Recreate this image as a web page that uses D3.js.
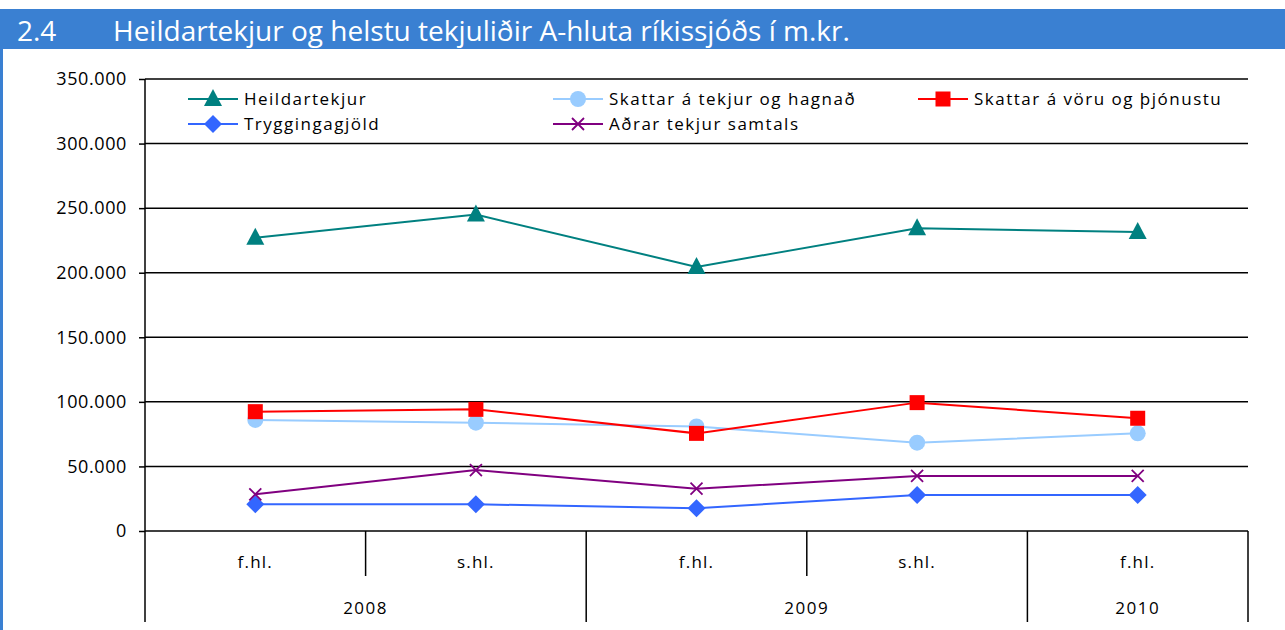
<!DOCTYPE html>
<html>
<head>
<meta charset="utf-8">
<script src="https://cdn.jsdelivr.net/npm/d3@7"></script>
<style>
  body { margin: 0; background: #fff; }
  svg text { font-family: "Open Sans", "Noto Sans", sans-serif; fill: #000; }
</style>
</head>
<body>
<script>
// data
var periods = ["f.hl.", "s.hl.", "f.hl.", "s.hl.", "f.hl."];
var years = [["2008", 0, 2], ["2009", 2, 4], ["2010", 4, 5]];
var yTicks = [0, 50000, 100000, 150000, 200000, 250000, 300000, 350000];

var heildartekjur = [227000, 245000, 204500, 234500, 231500];
var skattarTekjur = [86000, 83900, 81000, 68400, 75600];
var skattarVoru = [92400, 94200, 75600, 99400, 87300];
var tryggingagjold = [20700, 20700, 17600, 27900, 27900];
var adrarTekjur = [28400, 47200, 32800, 42600, 42600];

var series = [
  { name: "Heildartekjur", values: heildartekjur, color: "#008080", marker: "triangle" },
  { name: "Skattar á tekjur og hagnað", values: skattarTekjur, color: "#99ccff", marker: "circle" },
  { name: "Skattar á vöru og þjónustu", values: skattarVoru, color: "#ff0000", marker: "square" },
  { name: "Tryggingagjöld", values: tryggingagjold, color: "#3366ff", marker: "diamond" },
  { name: "Aðrar tekjur samtals", values: adrarTekjur, color: "#800080", marker: "cross" }
];

var W = 1285, H = 630;
var plotLeft = 145, plotRight = 1248, plotTop = 79, plotBottom = 531;

var svg = d3.select("body").append("svg")
  .attr("width", W).attr("height", H);

// title bar
svg.append("rect").attr("x", 0).attr("y", 9).attr("width", W).attr("height", 40).attr("fill", "#3a80d2");
svg.append("rect").attr("x", 0).attr("y", 49).attr("width", 3).attr("height", H - 49).attr("fill", "#3a80d2");
svg.append("text").attr("x", 17).attr("y", 41).style("font-size", "28px").style("fill", "#fff").text("2.4");
svg.append("text").attr("x", 113).attr("y", 41).style("font-size", "28px").style("fill", "#fff")
  .text("Heildartekjur og helstu tekjuliðir A-hluta ríkissjóðs í m.kr.");

var x = d3.scaleBand().domain(d3.range(periods.length)).range([plotLeft, plotRight]).padding(0);
var y = d3.scaleLinear().domain([0, 350000]).range([plotBottom, plotTop]);

var loc = d3.formatLocale({ decimal: ",", thousands: ".", grouping: [3], currency: ["", ""] });
var fmt = loc.format(",");

// gridlines
svg.append("g").selectAll("line").data(yTicks.slice(1)).enter().append("line")
  .attr("x1", plotLeft).attr("x2", plotRight)
  .attr("y1", function(d) { return y(d); }).attr("y2", function(d) { return y(d); })
  .attr("stroke", "#000").attr("stroke-width", 1.5);

// y axis
var yAxis = svg.append("g")
  .attr("transform", "translate(" + plotLeft + ",0)")
  .call(d3.axisLeft(y).tickValues(yTicks).tickFormat(fmt).tickSize(6).tickPadding(12));
yAxis.select(".domain").remove();
yAxis.selectAll("line").attr("stroke", "#000").attr("stroke-width", 1.5);
yAxis.selectAll("text").style("font-size", "18px").style("letter-spacing", "0.6px")
  .style("font-family", "'Open Sans', sans-serif").attr("fill", "#000");

// axis lines
svg.append("line").attr("x1", plotLeft).attr("x2", plotLeft).attr("y1", plotTop).attr("y2", 622)
  .attr("stroke", "#000").attr("stroke-width", 1.5);
svg.append("line").attr("x1", plotLeft).attr("x2", plotRight).attr("y1", plotBottom).attr("y2", plotBottom)
  .attr("stroke", "#000").attr("stroke-width", 1.5);

// category ticks
var g = svg.append("g");
periods.forEach(function(p, i) {
  var bx = x(i) + x.bandwidth();
  var isYearEnd = years.some(function(yr) { return yr[2] === i + 1; });
  g.append("line").attr("x1", bx).attr("x2", bx).attr("y1", plotBottom)
    .attr("y2", isYearEnd ? 622 : 576)
    .attr("stroke", "#000").attr("stroke-width", 1.5);
  g.append("text").attr("x", x(i) + x.bandwidth() / 2).attr("y", 568)
    .attr("text-anchor", "middle").style("font-size", "17px").style("letter-spacing", "1.2px").text(p);
});
years.forEach(function(yr) {
  var cx = (x(yr[1]) + x(yr[2] - 1) + x.bandwidth()) / 2;
  g.append("text").attr("x", cx).attr("y", 614)
    .attr("text-anchor", "middle").style("font-size", "17px").style("letter-spacing", "1.5px").text(yr[0]);
});

function drawMarker(sel, type, color) {
  if (type === "triangle") {
    sel.append("path").attr("d", "M0,-10L9,7L-9,7Z").attr("fill", color);
  } else if (type === "circle") {
    sel.append("circle").attr("r", 8).attr("fill", color);
  } else if (type === "square") {
    sel.append("rect").attr("x", -7.5).attr("y", -7.5).attr("width", 15).attr("height", 15).attr("fill", color);
  } else if (type === "diamond") {
    sel.append("path").attr("d", "M0,-9L9,0L0,9L-9,0Z").attr("fill", color);
  } else if (type === "cross") {
    sel.append("path").attr("d", "M-6,-6L6,6M-6,6L6,-6").attr("stroke", color).attr("stroke-width", 1.8).attr("fill", "none");
  }
}

var line = d3.line()
  .x(function(d, i) { return x(i) + x.bandwidth() / 2; })
  .y(function(d) { return y(d); });

series.forEach(function(s) {
  svg.append("path").datum(s.values).attr("d", line)
    .attr("fill", "none").attr("stroke", s.color).attr("stroke-width", 2);
  s.values.forEach(function(v, i) {
    var m = svg.append("g").attr("transform", "translate(" + (x(i) + x.bandwidth() / 2) + "," + y(v) + ")");
    drawMarker(m, s.marker, s.color);
  });
});

// legend
var legPos = [[188, 99], [553, 99], [918, 99], [188, 124], [553, 124]];
series.forEach(function(s, i) {
  var lg = svg.append("g").attr("transform", "translate(" + legPos[i][0] + "," + legPos[i][1] + ")");
  lg.append("line").attr("x1", 0).attr("x2", 50).attr("stroke", s.color).attr("stroke-width", 2);
  var m = lg.append("g").attr("transform", "translate(25,0)");
  drawMarker(m, s.marker, s.color);
  lg.append("text").attr("x", 56).attr("y", 6).style("font-size", "17px").style("letter-spacing", "1.5px").text(s.name);
});
</script>
</body>
</html>
